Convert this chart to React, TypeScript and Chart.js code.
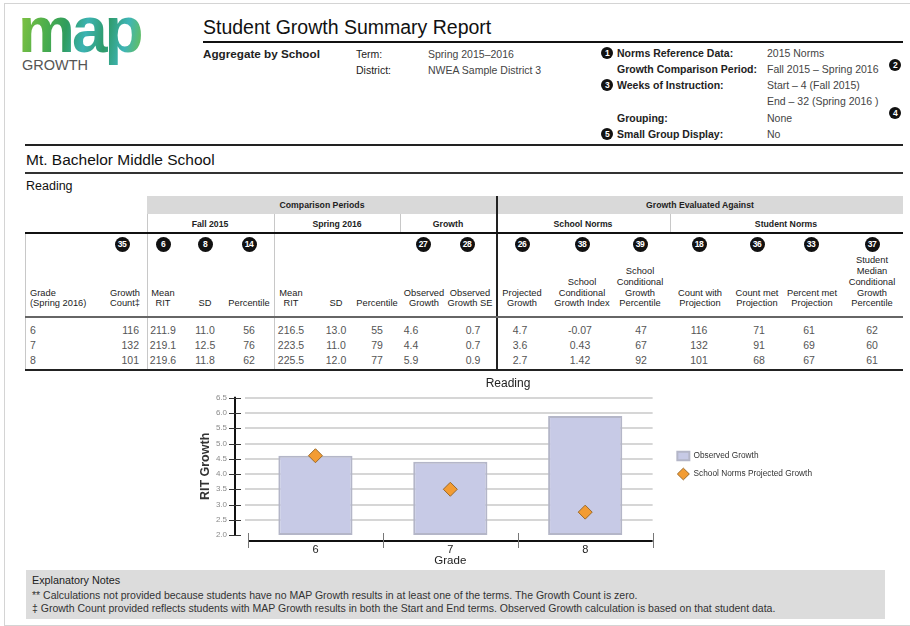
import React, { useEffect, useRef } from "react";
import { Chart, registerables } from "chart.js";

Chart.register(...registerables);

// ---------- chart data ----------
const grades = ["6", "7", "8"];
const observedGrowth = [4.6, 4.4, 5.9];
const projectedGrowth = [4.6, 3.5, 2.75];
const yMin = 2.0;
const yMax = 6.5;
const yStep = 0.5;

// ---------- table data ----------
const rowGrades = ["6", "7", "8"];
const growthCount = ["116", "132", "101"];
const fallMeanRIT = ["211.9", "219.1", "219.6"];
const fallSD = ["11.0", "12.5", "11.8"];
const fallPct = ["56", "76", "62"];
const springMeanRIT = ["216.5", "223.5", "225.5"];
const springSD = ["13.0", "11.0", "12.0"];
const springPct = ["55", "79", "77"];
const obsGrowthTable = ["4.6", "4.4", "5.9"];
const obsGrowthSE = ["0.7", "0.7", "0.9"];
const projGrowthTable = ["4.7", "3.6", "2.7"];
const condGrowthIndex = ["-0.07", "0.43", "1.42"];
const condGrowthPct = ["47", "67", "92"];
const countWithProj = ["116", "132", "101"];
const countMetProj = ["71", "91", "68"];
const pctMetProj = ["61", "69", "67"];
const medianCGP = ["62", "60", "61"];

const FONT = "'Liberation Sans', Arial, Helvetica, sans-serif";

type TxProps = {
  x: number; y: number; s: number; c?: string; a?: "left" | "center" | "right";
  b?: boolean; w?: number; children: React.ReactNode; ls?: number;
};
const Tx = ({ x, y, s, c = "#222", a = "left", b = false, w = 300, children, ls = 0 }: TxProps) => {
  const left = a === "left" ? x : a === "center" ? x - w / 2 : x - w;
  return (
    <div
      style={{
        position: "absolute", left, top: y - s / 2, width: w, fontSize: s, lineHeight: 1,
        fontFamily: FONT, color: c, fontWeight: b ? "bold" : "normal", textAlign: a,
        whiteSpace: "nowrap", letterSpacing: ls,
      }}
    >
      {children}
    </div>
  );
};

const Box = ({ x, y, w, h, c }: { x: number; y: number; w: number; h: number; c: string }) => (
  <div style={{ position: "absolute", left: x, top: y, width: w, height: h, background: c }} />
);

const Circ = ({ x, y, d, n, fs }: { x: number; y: number; d: number; n: string; fs: number }) => (
  <div
    style={{
      position: "absolute", left: x - d / 2, top: y - d / 2, width: d, height: d, borderRadius: "50%",
      background: "#111", color: "#fff", fontFamily: FONT, fontWeight: "bold", fontSize: fs,
      lineHeight: d + "px", textAlign: "center", letterSpacing: -0.5,
    }}
  >
    {n}
  </div>
);

type Col = { x: number; a: "left" | "center" | "right"; vals: string[] };
const dataCols: Col[] = [
  { x: 30, a: "left", vals: rowGrades },
  { x: 139, a: "right", vals: growthCount },
  { x: 163, a: "center", vals: fallMeanRIT },
  { x: 205, a: "center", vals: fallSD },
  { x: 249, a: "center", vals: fallPct },
  { x: 291, a: "center", vals: springMeanRIT },
  { x: 336, a: "center", vals: springSD },
  { x: 377, a: "center", vals: springPct },
  { x: 411, a: "center", vals: obsGrowthTable },
  { x: 473, a: "center", vals: obsGrowthSE },
  { x: 520, a: "center", vals: projGrowthTable },
  { x: 580, a: "center", vals: condGrowthIndex },
  { x: 641, a: "center", vals: condGrowthPct },
  { x: 699, a: "center", vals: countWithProj },
  { x: 759, a: "center", vals: countMetProj },
  { x: 809, a: "center", vals: pctMetProj },
  { x: 872, a: "center", vals: medianCGP },
];

type HCol = { x: number; a: "left" | "center" | "right"; lines: string[]; circle?: string; cx?: number };
const headCols: HCol[] = [
  { x: 30, a: "left", lines: ["Grade", "(Spring 2016)"] },
  { x: 140, a: "right", lines: ["Growth", "Count\u2021"], circle: "35", cx: 122 },
  { x: 163, a: "center", lines: ["Mean", "RIT"], circle: "6", cx: 163 },
  { x: 205, a: "center", lines: ["SD"], circle: "8", cx: 205 },
  { x: 249, a: "center", lines: ["Percentile"], circle: "14", cx: 249 },
  { x: 291, a: "center", lines: ["Mean", "RIT"] },
  { x: 336, a: "center", lines: ["SD"] },
  { x: 377, a: "center", lines: ["Percentile"] },
  { x: 424, a: "center", lines: ["Observed", "Growth"], circle: "27", cx: 423 },
  { x: 470, a: "center", lines: ["Observed", "Growth SE"], circle: "28", cx: 467 },
  { x: 522, a: "center", lines: ["Projected", "Growth"], circle: "26", cx: 522 },
  { x: 582, a: "center", lines: ["School", "Conditional", "Growth Index"], circle: "38", cx: 582 },
  { x: 640, a: "center", lines: ["School", "Conditional", "Growth", "Percentile"], circle: "39", cx: 640 },
  { x: 700, a: "center", lines: ["Count with", "Projection"], circle: "18", cx: 699 },
  { x: 757, a: "center", lines: ["Count met", "Projection"], circle: "36", cx: 757 },
  { x: 812, a: "center", lines: ["Percent met", "Projection"], circle: "33", cx: 811 },
  { x: 872, a: "center", lines: ["Student", "Median", "Conditional", "Growth", "Percentile"], circle: "37", cx: 872 },
];

const rowY = [330, 345, 360];

const axesPlugin = {
  id: "customAxes",
  afterLayout(chart: any) {
    const lg = chart.legend;
    if (lg) {
      lg.top -= 6;
      lg.bottom -= 6;
    }
  },
  beforeDatasetsDraw(chart: any) {
    const { ctx, chartArea, scales } = chart;
    const y = scales.y;
    ctx.save();
    ctx.strokeStyle = "#d6d6d6";
    ctx.lineWidth = 2;
    y.ticks.forEach((t: any) => {
      if (t.value <= yMin) return;
      const py = Math.round(y.getPixelForValue(t.value));
      ctx.beginPath();
      ctx.moveTo(chartArea.left - 3, py);
      ctx.lineTo(chartArea.right, py);
      ctx.stroke();
    });
    ctx.restore();
  },
  afterDatasetsDraw(chart: any) {
    const { ctx, chartArea, scales } = chart;
    const y = scales.y;
    const x = scales.x;
    ctx.save();
    const ax = chartArea.left - 13;
    ctx.strokeStyle = "#111";
    ctx.lineWidth = 2;
    ctx.beginPath();
    ctx.moveTo(ax, y.getPixelForValue(yMax) - 1);
    ctx.lineTo(ax, y.getPixelForValue(yMin) + 1);
    ctx.stroke();
    ctx.lineWidth = 1;
    ctx.strokeStyle = "#333";
    y.ticks.forEach((t: any) => {
      const py = Math.round(y.getPixelForValue(t.value)) + 0.5;
      ctx.beginPath();
      ctx.moveTo(ax - 6, py);
      ctx.lineTo(ax + 6, py);
      ctx.stroke();
    });
    const xy = chartArea.bottom + 6;
    ctx.strokeStyle = "#111";
    ctx.lineWidth = 2;
    ctx.beginPath();
    ctx.moveTo(chartArea.left, xy);
    ctx.lineTo(chartArea.right, xy);
    ctx.stroke();
    ctx.lineWidth = 1;
    ctx.strokeStyle = "#777";
    const n = grades.length;
    const w = (x.right - x.left) / n;
    for (let i = 0; i <= n; i++) {
      const px = Math.round(x.left + i * w) + 0.5;
      ctx.beginPath();
      ctx.moveTo(px, xy - 8);
      ctx.lineTo(px, xy + 7);
      ctx.stroke();
    }
    ctx.restore();
  },
};

function GrowthChart() {
  const ref = useRef<HTMLCanvasElement | null>(null);
  useEffect(() => {
    if (!ref.current) return;
    const chart = new Chart(ref.current, {
      type: "bar",
      data: {
        labels: grades,
        datasets: [
          {
            type: "bar",
            label: "Observed Growth",
            data: observedGrowth,
            base: yMin,
            backgroundColor: "#c7cae6",
            borderColor: "#b4b6c8",
            borderWidth: 2,
            borderSkipped: false,
            barPercentage: 0.55,
            categoryPercentage: 1,
            pointStyle: "rect",
          } as any,
          {
            type: "line",
            label: "School Norms Projected Growth",
            data: projectedGrowth,
            showLine: false,
            pointStyle: "rectRot",
            pointRadius: 7,
            pointHoverRadius: 7,
            backgroundColor: "#f39c33",
            borderColor: "#9b6a2a",
            borderWidth: 1,
            order: -1,
          } as any,
        ],
      },
      options: {
        responsive: false,
        animation: false,
        events: [],
        layout: { padding: { left: 14, right: 14, top: 0, bottom: 0 } },
        plugins: {
          title: {
            display: true,
            text: "Reading",
            color: "#222",
            font: { family: FONT, size: 12, weight: "normal" },
            padding: { top: 4, bottom: 7 },
          },
          legend: {
            position: "right",
            maxWidth: 220,
            labels: {
              usePointStyle: true,
              pointStyleWidth: 12,
              padding: 9.7,
              color: "#333",
              font: { family: FONT, size: 8.3 },
              sort: (a: any, b: any) => a.datasetIndex - b.datasetIndex,
            },
          },
          tooltip: { enabled: false },
        },
        scales: {
          x: {
            grid: { display: false, drawTicks: false },
            border: { display: false },
            ticks: { color: "#222", font: { family: FONT, size: 11 }, padding: 8 },
            title: {
              display: true,
              text: "Grade",
              color: "#222",
              font: { family: FONT, size: 11.5 },
              padding: { top: 0, bottom: 2 },
            },
            afterFit: (s: any) => { s.height = 35; },
          },
          y: {
            min: yMin,
            max: yMax,
            grid: { display: false, drawTicks: false },
            border: { display: false },
            ticks: {
              stepSize: yStep,
              color: "#8a8a8a",
              font: { family: FONT, size: 8 },
              padding: 21,
              callback: (v: any) => Number(v).toFixed(1),
            },
            title: {
              display: true,
              text: "RIT Growth",
              color: "#333",
              font: { family: FONT, size: 12.5, weight: "bold" },
              padding: { top: 4, bottom: 0 },
            },
            afterFit: (s: any) => { s.width = 54; },
          },
          yRight: {
            type: "linear",
            position: "right",
            display: true,
            grid: { display: false, drawTicks: false },
            border: { display: false },
            ticks: { display: false },
            afterFit: (s: any) => { s.width = 15; },
          },
        },
      } as any,
      plugins: [axesPlugin],
    });
    return () => chart.destroy();
  }, []);
  return (
    <canvas
      ref={ref}
      width={656}
      height={198}
      style={{ position: "absolute", left: 180, top: 372, width: 656, height: 198 }}
    />
  );
}

export default function App() {
  return (
    <div
      style={{
        position: "fixed", left: 0, top: 0, width: 910, height: 626, overflow: "hidden",
        background: "#fff", fontFamily: FONT,
      }}
    >
      <div style={{ position: "absolute", left: 4, top: 3, width: 940, height: 621, border: "1.5px solid #d4d4d4" }} />

      {/* logo */}
      <div
        style={{
          position: "absolute", left: 18, top: -8, fontFamily: FONT, fontWeight: "bold", fontSize: 64,
          lineHeight: "76px", letterSpacing: -3,
          background: "linear-gradient(100deg, #8cc63f 0%, #4cae4c 25%, #2f9c5e 40%, #3cb3b4 55%, #2e9a68 70%, #3fb5b8 85%, #6cc04a 100%)",
          WebkitBackgroundClip: "text", backgroundClip: "text", color: "transparent",
        }}
      >
        map
      </div>
      <Tx x={22} y={65} s={14.5} c="#555">GROWTH</Tx>

      {/* title */}
      <Tx x={203} y={28} s={19.5} c="#111">Student Growth Summary Report</Tx>
      <Box x={203} y={41} w={700} h={2} c="#111" />
      <Tx x={203} y={54} s={11.7} b c="#222">Aggregate by School</Tx>
      <Tx x={356} y={54} s={10.5} c="#222">Term:</Tx>
      <Tx x={356} y={70} s={10.5} c="#222">District:</Tx>
      <Tx x={428} y={54} s={10.5} c="#444">Spring 2015–2016</Tx>
      <Tx x={428} y={70} s={10.5} c="#444">NWEA Sample District 3</Tx>

      <Circ x={607} y={53} d={12} n="1" fs={8.5} />
      <Tx x={617} y={53} s={10.5} b c="#222">Norms Reference Data:</Tx>
      <Tx x={767} y={53} s={10.5} c="#444">2015 Norms</Tx>
      <Tx x={617} y={69} s={10.5} b c="#222">Growth Comparison Period:</Tx>
      <Tx x={767} y={69} s={10.5} c="#444">Fall 2015 – Spring 2016</Tx>
      <Circ x={895} y={65} d={12} n="2" fs={8.5} />
      <Circ x={607} y={85} d={12} n="3" fs={8.5} />
      <Tx x={617} y={85} s={10.5} b c="#222">Weeks of Instruction:</Tx>
      <Tx x={767} y={85} s={10.5} c="#444">Start – 4 (Fall 2015)</Tx>
      <Tx x={767} y={101} s={10.5} c="#444">End – 32 (Spring 2016 )</Tx>
      <Circ x={895} y={113} d={12} n="4" fs={8.5} />
      <Tx x={617} y={118} s={10.5} b c="#222">Grouping:</Tx>
      <Tx x={767} y={118} s={10.5} c="#444">None</Tx>
      <Circ x={607} y={134} d={12} n="5" fs={8.5} />
      <Tx x={617} y={134} s={10.5} b c="#222">Small Group Display:</Tx>
      <Tx x={767} y={134} s={10.5} c="#444">No</Tx>

      <Box x={25} y={144} w={878} h={2} c="#222" />

      {/* school */}
      <Tx x={26} y={160} s={15.5} c="#111">Mt. Bachelor Middle School</Tx>
      <Box x={25} y={172} w={878} h={2} c="#333" />
      <Tx x={26} y={186} s={12.5} c="#111">Reading</Tx>

      {/* table header bands */}
      <Box x={147} y={196} w={756} h={18} c="#d9d9d9" />
      <Tx x={322} y={205} s={8.7} b a="center" c="#222">Comparison Periods</Tx>
      <Tx x={700} y={205} s={8.7} b a="center" c="#222">Growth Evaluated Against</Tx>
      <Tx x={210} y={224} s={8.7} b a="center" c="#222">Fall 2015</Tx>
      <Tx x={337} y={224} s={8.7} b a="center" c="#222">Spring 2016</Tx>
      <Tx x={448} y={224} s={8.7} b a="center" c="#222">Growth</Tx>
      <Tx x={583} y={224} s={8.7} b a="center" c="#222">School Norms</Tx>
      <Tx x={786} y={224} s={8.7} b a="center" c="#222">Student Norms</Tx>

      <Box x={147} y={214} w={1} h={156} c="#c8c8c8" />
      <Box x={274} y={214} w={1} h={156} c="#c8c8c8" />
      <Box x={400} y={214} w={1} h={19} c="#c8c8c8" />
      <Box x={670} y={214} w={1} h={19} c="#c8c8c8" />
      <Box x={25} y={234} w={1} h={136} c="#c8c8c8" />
      <Box x={496} y={196} w={2} h={174} c="#222" />

      <Box x={25} y={232} w={878} h={2} c="#111" />
      <Box x={25} y={316} w={878} h={1.5} c="#666" />
      <Box x={25} y={369} w={878} h={2} c="#222" />

      {headCols.map((h, i) => (
        <React.Fragment key={"h" + i}>
          {h.circle ? <Circ x={h.cx as number} y={244} d={15} n={h.circle} fs={8.5} /> : null}
          {h.lines.map((ln, j) => (
            <Tx key={j} x={h.x} y={304 - (h.lines.length - 1 - j) * 10.8} s={9.3} a={h.a} w={90} c="#222">
              {ln}
            </Tx>
          ))}
        </React.Fragment>
      ))}

      {dataCols.map((col, i) =>
        col.vals.map((v, r) => (
          <Tx key={"d" + i + "-" + r} x={col.x} y={rowY[r]} s={10.5} a={col.a} w={60} c="#555">
            {v}
          </Tx>
        ))
      )}

      <GrowthChart />

      <Box x={26} y={570} w={859} h={49} c="#dcdcdc" />
      <Tx x={32} y={580} s={10.8} c="#222">Explanatory Notes</Tx>
      <Tx x={32} y={595} s={10.5} c="#333" w={820}>
        ** Calculations not provided because students have no MAP Growth results in at least one of the terms. The Growth Count is zero.
      </Tx>
      <Tx x={32} y={608} s={10.5} c="#333" w={820}>
        ‡ Growth Count provided reflects students with MAP Growth results in both the Start and End terms. Observed Growth calculation is based on that student data.
      </Tx>
    </div>
  );
}
